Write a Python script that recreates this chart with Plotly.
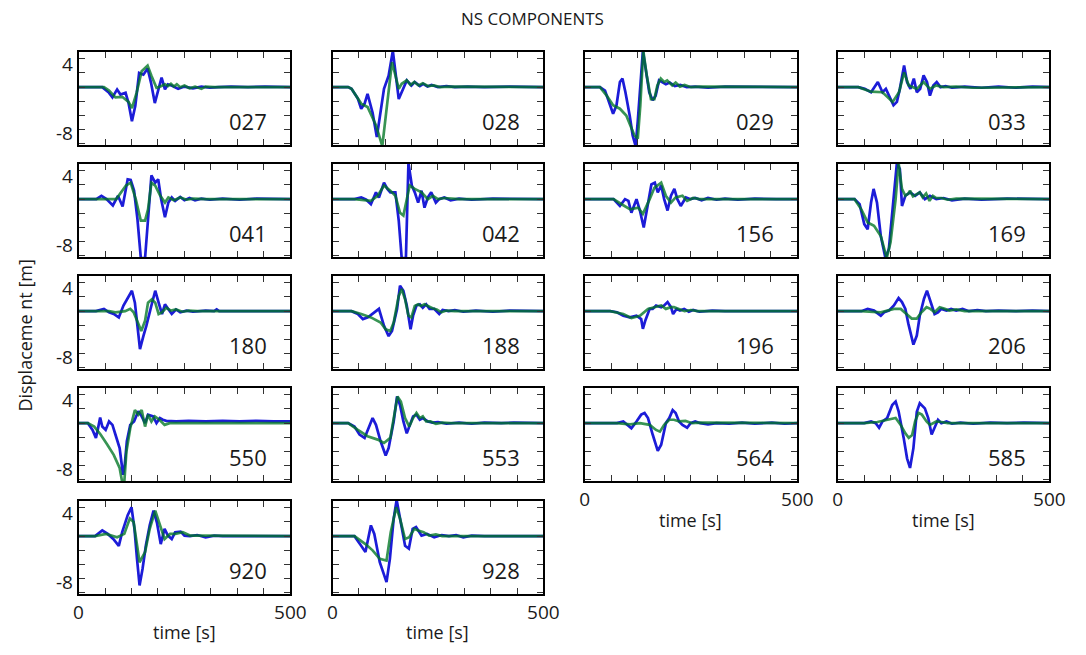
import plotly.graph_objects as go

# ---------------------------------------------------------------------------
# Waveforms: (time [s], displacement [m]) vertices for every station.
# obs_* = blue trace, syn_* = green trace
# ---------------------------------------------------------------------------
obs_027 = [(0, 0), (56, 0), (72, -1.0), (80, -1.8), (91, -0.4), (99, -1.3), (111, -1.0), (118, -2.8),
           (126, -6.0), (134, -3.3), (143, 2.5), (153, 2.2), (163, 3.3), (171, 0.8), (180, -2.8),
           (188, -0.4), (196, 1.7), (204, -0.4), (211, 0.5), (222, 0.2), (235, -0.3), (250, 0.1),
           (270, -0.2), (290, 0.1), (310, -0.1), (330, 0), (360, 0.1), (400, 0), (440, 0.1), (500, 0)]
syn_027 = [(0, 0), (60, 0), (72, -0.6), (87, -1.8), (103, -1.7), (118, -2.6), (126, -3.7), (137, -1.0),
           (149, 2.8), (163, 3.8), (172, 2.0), (184, -0.1), (196, 0.2), (204, 0.5), (211, 0.2), (218, 0.6),
           (225, 0.1), (232, 0.5), (240, 0), (250, 0.3), (262, -0.2), (275, 0.1), (290, -0.3), (300, 0.1),
           (320, 0), (500, 0)]

obs_028 = [(0, 0), (37, 0), (45, -0.3), (60, -2.0), (68, -3.8), (76, -2.9), (83, -1.2), (95, -4.5),
           (105, -8.8), (114, -4.1), (122, -0.3), (133, 2.0), (143, 6.4), (157, -2.1), (164, -0.9),
           (176, 1.2), (187, 0.3), (195, 0.9), (207, 0.2), (215, 0.6), (225, 0.1), (235, 0.4), (250, 0),
           (270, 0.2), (290, 0), (320, 0.1), (360, 0), (420, 0.1), (500, 0)]
syn_028 = [(0, 0), (37, 0), (45, -0.3), (68, -2.9), (83, -3.5), (103, -6.7), (118, -10.4), (130, -3.2),
           (141, 4.4), (149, 2.1), (157, -0.3), (164, 0.6), (176, 1.2), (185, 0.4), (194, 0.9), (204, 0.3),
           (214, 0.7), (226, 0.2), (240, 0.3), (255, 0), (275, 0.1), (500, 0)]

obs_029 = [(0, 0), (36, 0), (48, -0.6), (59, -3.2), (67, -4.7), (75, -3.2), (83, 0.9), (89, 1.5),
           (96, -0.9), (106, -5.0), (113, -8.5), (120, -10.4), (125, -6.0), (137, 6.4), (144, 2.6),
           (152, -0.9), (160, -2.3), (167, -1.5), (175, 1.2), (183, 0.9), (191, 0.5), (200, 0.8),
           (212, 0.2), (225, 0.4), (240, 0), (260, 0.1), (290, -0.1), (330, 0.1), (500, 0)]
syn_029 = [(0, 0), (36, 0), (52, -1.5), (67, -3.2), (83, -3.8), (98, -5.0), (117, -8.5), (125, -9.1),
           (131, -3.2), (138, 6.4), (146, 2.1), (156, -2.1), (164, -2.1), (171, 0.3), (179, 1.5),
           (187, 0.9), (194, 1.2), (206, 0.3), (214, 0.8), (224, 0.1), (235, 0.4), (250, 0), (270, 0.1),
           (500, 0)]

obs_033 = [(0, 0), (49, 0), (64, -0.3), (79, -0.9), (95, 0.9), (106, -0.9), (114, -0.3), (124, -2.1),
           (132, -3.2), (140, -2.6), (147, -0.3), (157, 3.8), (164, 0.9), (172, -0.3), (180, 1.5),
           (187, -0.9), (195, -0.3), (203, 2.1), (211, 0.9), (218, -1.5), (226, 0.3), (234, 0.9),
           (243, 0), (255, 0.2), (270, -0.1), (300, 0.1), (340, -0.1), (380, 0.1), (420, -0.1),
           (460, 0.1), (500, 0)]
syn_033 = [(0, 0), (49, 0), (79, -0.8), (106, -0.9), (130, -2.6), (145, -0.9), (157, 2.6), (168, 0.3),
           (187, -0.3), (203, 0.9), (218, -0.3), (232, 0.3), (250, 0), (280, 0.1), (320, -0.1), (500, 0)]

obs_041 = [(0, 0), (42, 0), (54, 0.6), (66, 0), (81, -1.1), (93, 0.6), (104, -1.3), (116, 3.5),
           (123, 3.4), (131, 1.5), (139, -3.5), (147, -10.4), (157, -10.4), (164, -2.9), (172, 4.2),
           (181, 2.9), (188, 3.5), (195, 0), (204, -3.2), (212, -0.6), (220, 0.3), (228, -0.3),
           (240, 0.4), (250, -0.2), (262, 0.2), (275, -0.2), (290, 0.1), (310, -0.1), (340, 0.1),
           (380, -0.1), (420, 0.1), (500, 0)]
syn_041 = [(0, 0), (42, 0), (66, 0.1), (89, 0), (112, 2.4), (123, 2.9), (135, 0), (147, -3.8), (157, -3.8),
           (164, -1.8), (172, 2.9), (181, 2.4), (193, 0.6), (204, -0.6), (212, 0.3), (225, -0.2),
           (240, 0.3), (255, -0.1), (270, 0.1), (300, 0), (500, 0)]

obs_042 = [(0, 0), (52, 0), (68, 0.3), (80, -0.1), (91, -0.9), (103, 1.2), (110, 0.3), (122, 2.9),
           (130, 1.8), (137, 1.2), (149, 1.2), (157, -3.8), (164, -10.4), (174, -10.4), (180, 6.4),
           (188, 2.4), (195, 1.2), (203, -0.6), (211, 1.5), (218, -1.5), (226, 0.3), (234, 1.2),
           (245, -0.6), (253, 0), (265, 0.3), (280, -0.2), (300, 0.1), (330, -0.1), (380, 0.1), (500, 0)]
syn_042 = [(0, 0), (52, 0), (91, -0.3), (107, 0.6), (122, 2.4), (137, 1.5), (149, 0.6), (160, -2.4),
           (168, -2.9), (176, 0), (183, 2.4), (195, 1.8), (211, 1.2), (226, 0), (238, 0.6), (250, 0),
           (265, 0.2), (300, 0), (500, 0)]

obs_156 = [(0, 0), (68, 0), (83, -1.2), (95, 0), (103, -0.3), (110, -2.4), (122, 0), (130, -2.0),
           (139, -5.0), (149, -0.6), (157, 2.6), (165, 2.9), (172, 1.2), (180, 2.4), (187, 0),
           (195, -2.0), (203, 0.6), (211, 1.8), (218, 0), (226, -1.2), (238, 0.3), (249, 0), (260, 0.2),
           (275, -0.2), (290, 0.2), (310, -0.1), (330, 0.1), (360, -0.1), (400, 0.1), (450, 0), (500, 0)]
syn_156 = [(0, 0), (68, 0), (87, -0.9), (107, -1.8), (126, -1.5), (137, -2.6), (153, 0), (164, 2.0),
           (180, 2.9), (191, 0.6), (203, -0.6), (214, 0.3), (230, 0.6), (241, -0.3), (255, 0.2), (270, 0),
           (500, 0)]

obs_169 = [(0, 0), (40, 0), (52, -0.9), (63, -4.4), (71, -5.3), (79, -0.6), (85, 1.8), (93, -0.6),
           (102, -6.5), (113, -10.4), (121, -8.8), (131, 0), (140, 6.4), (147, 5.3), (152, -1.2),
           (160, 0.6), (171, 1.2), (183, 0.6), (194, 1.2), (206, 0), (218, 0.6), (233, 0), (250, 0.2),
           (270, -0.2), (300, 0.1), (340, -0.1), (400, 0.1), (500, 0)]
syn_169 = [(0, 0), (40, 0), (56, -1.8), (71, -4.1), (86, -4.7), (102, -6.5), (116, -10.4), (125, -7.6),
           (137, 0), (144, 6.4), (152, 1.8), (160, 0.6), (167, 1.0), (171, 1.5), (178, 0.5), (186, 0.9),
           (194, 1.2), (201, 0.3), (209, 1.0), (217, -0.3), (225, 0.6), (233, 0.2), (245, 0.2),
           (260, -0.1), (280, 0.1), (500, 0)]

obs_180 = [(0, 0), (41, 0), (60, 0.4), (72, -0.2), (83, -0.5), (95, -1.1), (106, 1.0), (118, 2.7),
           (126, 3.6), (133, 1.5), (140, -3.2), (145, -6.7), (153, -4.4), (160, -2.6), (172, 1.0),
           (181, 3.6), (189, 1.5), (197, -0.5), (204, 1.2), (212, 0.3), (220, -0.5), (230, 0.3),
           (240, -0.2), (255, 0.1), (270, -0.1), (300, 0.1), (320, 0), (326, 0.3), (332, 0), (500, 0)]
syn_180 = [(0, 0), (41, 0), (72, 0), (87, -0.2), (110, 0), (122, 0.4), (130, -0.2), (140, -2.0),
           (148, -3.5), (157, -1.7), (164, 1.5), (173, 2.1), (181, 1.5), (189, -0.5), (197, -0.2),
           (207, 0.6), (218, 0.1), (230, 0.3), (245, -0.1), (260, 0.1), (280, 0), (500, 0)]

obs_188 = [(0, 0), (45, 0), (60, -0.5), (72, -1.4), (84, -1.1), (99, -0.2), (110, 0.4), (122, -2.6),
           (133, -4.4), (141, -3.5), (153, 0.4), (160, 4.5), (168, 3.6), (176, 1.0), (185, -3.2),
           (191, -0.8), (199, 1.0), (207, 1.2), (214, 0.6), (222, 1.2), (230, 0.4), (241, 0.4),
           (253, -0.5), (261, 0.2), (275, 0), (290, 0.2), (310, -0.1), (340, 0.1), (380, -0.1),
           (420, 0.1), (460, 0), (500, 0)]
syn_188 = [(0, 0), (45, 0), (68, -0.5), (91, -1.1), (114, -2.0), (126, -3.2), (137, -3.5), (145, -2.0),
           (157, 2.7), (164, 3.9), (172, 2.1), (180, -0.8), (187, -1.1), (195, 0.9), (203, 1.2),
           (210, 0.9), (218, 1.2), (226, 0.9), (237, 0.5), (247, 0.3), (258, -0.2), (270, 0.1), (290, 0),
           (500, 0)]

obs_196 = [(0, 0), (60, 0), (76, -0.2), (91, -0.8), (106, -1.1), (122, -0.8), (133, -1.4), (137, -3.1),
           (143, -1.6), (153, 0.4), (160, 0.4), (168, 1.0), (180, 0.7), (187, 1.0), (195, 1.6),
           (203, 0.7), (208, -0.5), (216, 0.4), (224, 0.1), (234, 0.4), (245, -0.1), (255, 0.2),
           (270, -0.1), (300, 0.1), (330, 0), (500, 0)]
syn_196 = [(0, 0), (60, 0), (91, -0.5), (110, -1.2), (130, -0.8), (149, 0.4), (164, 0.7), (180, 1.0),
           (191, 0.4), (203, 0.7), (210, 0.7), (222, 0.4), (235, 0), (250, 0.2), (265, 0), (500, 0)]

obs_206 = [(0, 0), (56, 0), (71, 0.4), (86, 0.1), (102, -0.8), (110, -0.2), (121, 0.1), (133, 1.0),
           (144, 2.3), (152, 1.6), (160, 0.4), (167, -2.2), (179, -5.9), (187, -4.3), (194, -0.8),
           (204, 2.2), (211, 3.6), (219, 1.6), (229, -0.5), (237, -0.2), (245, 0.4), (257, 0.1),
           (268, 0.4), (280, 0.1), (295, 0.4), (310, 0), (330, 0.2), (350, 0), (380, 0.1), (420, 0),
           (460, 0.1), (500, 0)]
syn_206 = [(0, 0), (56, 0), (102, -0.2), (133, 0.4), (149, 0.4), (164, -0.5), (175, -1.3), (187, -1.3),
           (198, -0.2), (210, 0.7), (219, 0.4), (229, -0.2), (241, 0.7), (253, 0.4), (264, 0.1),
           (280, 0.3), (300, 0), (500, 0)]

obs_550 = [(0, 0), (22, 0), (33, -1.2), (41, -2.6), (46, -0.9), (51, 1.0), (56, -0.6), (64, -1.2),
           (72, 0.3), (80, -0.3), (87, -2.0), (97, -4.4), (105, -9.1), (109, -7.4), (114, -3.2),
           (122, -0.3), (131, 0.3), (141, 2.1), (149, 1.2), (157, 0), (164, 1.5), (176, 1.2), (184, 0),
           (192, 0.9), (199, 0.6), (207, 0.4), (230, 0.3), (260, 0.4), (300, 0.3), (340, 0.4), (380, 0.3),
           (420, 0.4), (460, 0.3), (500, 0.3)]
syn_550 = [(0, 0), (22, 0), (37, -0.6), (52, -2.0), (68, -3.8), (83, -5.6), (97, -7.9), (103, -10.4),
           (108, -10.4), (113, -5.0), (122, -0.9), (133, 2.3), (141, 1.5), (149, 2.3), (157, -0.6),
           (164, 1.5), (172, 0.3), (180, 1.2), (191, 0.6), (203, -0.3), (215, 0), (500, 0)]

obs_553 = [(0, 0), (37, 0), (52, -0.6), (64, -2.0), (76, -2.6), (87, -0.6), (95, 0.9), (103, -0.3),
           (114, -3.2), (126, -5.7), (133, -4.4), (145, 0.3), (153, 4.7), (160, 3.2), (168, 0.3),
           (176, -1.8), (184, 0), (191, 1.2), (199, 1.5), (207, 0.6), (214, 0.9), (226, 0.3), (237, 0.1),
           (250, 0.2), (270, -0.1), (300, 0.1), (330, -0.1), (360, 0.1), (400, 0), (430, 0.1), (500, 0)]
syn_553 = [(0, 0), (37, 0), (60, -1.2), (83, -2.3), (107, -2.9), (122, -3.5), (137, -2.6), (145, 0.9),
           (154, 4.7), (162, 3.8), (172, 0.9), (182, -0.6), (191, 0.9), (199, 1.8), (207, 0.9),
           (214, 1.2), (222, 0.3), (232, 0.3), (245, -0.1), (260, 0.1), (280, 0), (500, 0)]

obs_564 = [(0, 0), (76, 0), (91, 0.3), (102, -0.3), (110, -0.9), (122, 0.3), (133, 1.5), (141, 1.8),
           (149, 0.9), (160, -2.0), (172, -4.9), (180, -3.8), (191, 0), (199, 0.9), (207, 2.3),
           (214, 1.8), (222, 0.3), (230, -0.3), (241, -0.8), (249, 0), (260, 0.3), (272, 0), (290, -0.2),
           (310, 0), (340, -0.1), (370, 0.1), (400, -0.1), (440, 0.1), (470, -0.1), (500, 0)]
syn_564 = [(0, 0), (76, 0), (107, -0.2), (130, 0), (153, -0.3), (168, -1.2), (177, -1.5), (187, -0.3),
           (199, 0.6), (210, 0.6), (222, 0.3), (237, 0.4), (253, 0), (270, 0.1), (500, 0)]

obs_585 = [(0, 0), (63, 0), (79, 0.3), (90, 0), (98, -0.8), (106, 0.3), (117, 0.9), (129, 3.2),
           (137, 3.8), (144, 2.1), (156, -2.6), (164, -6.2), (171, -7.9), (179, -4.4), (187, 2.0),
           (194, 3.5), (206, 2.6), (214, 0.9), (222, -2.0), (230, -0.6), (237, 0.6), (245, 0), (257, 0.3),
           (270, -0.1), (290, 0.1), (320, -0.1), (360, 0.1), (400, 0), (440, 0.1), (500, 0)]
syn_585 = [(0, 0), (63, 0), (94, 0.2), (117, 0.6), (137, 0.9), (149, -0.3), (160, -1.8), (168, -2.6),
           (176, -2.1), (183, 0.3), (191, 1.8), (199, 1.5), (210, 0.3), (218, -0.3), (226, 0), (233, 0.3),
           (245, 0.2), (260, 0), (500, 0)]

obs_920 = [(0, 0), (39, 0), (56, 1.0), (69, 0.4), (82, -0.5), (95, -1.7), (103, 0.7), (116, 3.7),
           (125, 5.1), (132, 1.3), (138, -4.0), (144, -8.7), (151, -5.8), (159, -1.6), (168, 1.9),
           (177, 4.5), (185, 2.4), (194, -1.4), (203, 1.3), (211, 0.1), (220, -0.5), (228, 0.7),
           (241, 0.8), (250, 0.1), (263, 0), (280, 0.2), (300, -0.2), (320, 0.1), (340, 0), (500, 0)]
syn_920 = [(0, 0), (39, 0), (65, 0.4), (91, -0.2), (108, 0.4), (121, 3.1), (130, 2.5), (144, -4.6),
           (157, -2.8), (168, 1.3), (181, 4.5), (190, 2.4), (203, -0.5), (216, 0.4), (229, 0.4),
           (246, 0.7), (263, 0.1), (280, 0.1), (500, 0)]

obs_928 = [(0, 0), (52, 0), (65, -1.4), (78, -2.8), (91, 1.9), (99, 0.4), (112, -4.6), (128, -8.1),
           (136, -4.0), (145, 3.1), (152, 6.4), (160, 3.1), (172, -1.7), (181, -2.2), (190, 1.3),
           (198, 1.6), (211, 0.1), (224, 0.4), (241, -0.2), (259, 0.2), (276, 0), (293, 0.2), (310, -0.2),
           (330, 0.1), (360, 0), (500, 0)]
syn_928 = [(0, 0), (52, 0), (78, -1.4), (95, -2.5), (112, -4.0), (128, -4.3), (138, 0.7), (151, 5.1),
           (160, 3.1), (172, -0.5), (182, -0.2), (194, 1.3), (203, 1.0), (216, 0.7), (229, 0.1),
           (245, 0.3), (260, 0), (500, 0)]

STATIONS = ["027", "028", "029", "033",
            "041", "042", "156", "169",
            "180", "188", "196", "206",
            "550", "553", "564", "585",
            "920", "928"]
OBS = [obs_027, obs_028, obs_029, obs_033, obs_041, obs_042, obs_156, obs_169, obs_180,
       obs_188, obs_196, obs_206, obs_550, obs_553, obs_564, obs_585, obs_920, obs_928]
SYN = [syn_027, syn_028, syn_029, syn_033, syn_041, syn_042, syn_156, syn_169, syn_180,
       syn_188, syn_196, syn_206, syn_550, syn_553, syn_564, syn_585, syn_920, syn_928]

TIME_TICKS = [0, 62.5, 125, 187.5, 250, 312.5, 375, 437.5, 500]
TIME_LABELS = ["0", "", "", "", "", "", "", "", "500"]
DISP_TICKS = [-10, -7.5, -5, -2.5, 0, 2.5, 5]
DISP_LABELS = [4, -8]

# ---------------------------------------------------------------------------
# Page geometry (pixels)
# ---------------------------------------------------------------------------
W, H = 1086, 655
COLS = [(75, 291), (334, 549), (591, 808), (849, 1065)]
ROW_TOPS = [52, 164, 276, 388, 501]
PANEL_H = 93
T_RANGE = [0, 500]
D_RANGE = [-10.2, 6.2]

BLUE = "#1c1cd8"
GREEN = "rgba(0, 118, 36, 0.78)"
FONT = "Open Sans"
INK = "#1a1a1a"


def px_x(p):
    return p / W


def px_y(p):
    return 1 - p / H


# grid slot (row, col) of every station
slots = [(r, c) for r in range(4) for c in range(4)] + [(4, 0), (4, 1)]
# panels that carry the time tick labels
bottom_panels = {"920", "928", "564", "585"}

fig = go.Figure()
annotations = []
layout_axes = {}

for i, (name, obs, syn) in enumerate(zip(STATIONS, OBS, SYN)):
    r, c = slots[i]
    k = i + 1
    sfx = "" if k == 1 else str(k)
    xa, ya = f"x{sfx}", f"y{sfx}"
    x0, x1 = COLS[c]
    top = ROW_TOPS[r]

    fig.add_trace(go.Scatter(
        x=[p[0] for p in obs], y=[p[1] for p in obs], mode="lines",
        line=dict(color=BLUE, width=2.7), xaxis=xa, yaxis=ya,
        showlegend=False, hoverinfo="skip"))
    fig.add_trace(go.Scatter(
        x=[p[0] for p in syn], y=[p[1] for p in syn], mode="lines",
        line=dict(color=GREEN, width=2.7), xaxis=xa, yaxis=ya,
        showlegend=False, hoverinfo="skip"))

    axis_common = dict(showline=True, linecolor="black", linewidth=2, mirror="allticks",
                       ticks="inside", ticklen=6, tickwidth=1, tickcolor="#333",
                       showgrid=False, zeroline=False, fixedrange=True)
    show_x = name in bottom_panels
    layout_axes[f"xaxis{sfx}"] = dict(
        axis_common, domain=[px_x(x0), px_x(x1)], range=T_RANGE, anchor=ya,
        tickmode="array", tickvals=TIME_TICKS, ticktext=TIME_LABELS,
        showticklabels=show_x, tickfont=dict(family=FONT, size=19, color=INK))
    layout_axes[f"yaxis{sfx}"] = dict(
        axis_common, domain=[px_y(top + PANEL_H), px_y(top)], range=D_RANGE, anchor=xa,
        tickmode="array", tickvals=DISP_TICKS, showticklabels=False)

    # station number inside the panel
    annotations.append(dict(
        text=name, xref=f"{xa} domain", yref=f"{ya} domain", x=0.80, y=0.26,
        xanchor="center", yanchor="middle", showarrow=False,
        font=dict(family=FONT, size=22, color=INK)))

    # displacement labels on the first column
    if c == 0:
        for v in DISP_LABELS:
            annotations.append(dict(
                text=str(v), xref="paper", yref=ya, x=px_x(71), y=v,
                xanchor="right", yanchor="middle", showarrow=False,
                font=dict(family=FONT, size=19, color=INK)))

# time axis titles
for cx, cy in [((COLS[0][0] + COLS[0][1]) / 2, 632), ((COLS[1][0] + COLS[1][1]) / 2, 632),
               ((COLS[2][0] + COLS[2][1]) / 2, 520), ((COLS[3][0] + COLS[3][1]) / 2, 520)]:
    annotations.append(dict(
        text="time [s]", xref="paper", yref="paper", x=px_x(cx), y=px_y(cy),
        xanchor="center", yanchor="middle", showarrow=False,
        font=dict(family=FONT, size=18, color=INK)))

annotations.append(dict(
    text="NS COMPONENTS", xref="paper", yref="paper", x=px_x(538), y=px_y(18),
    xanchor="center", yanchor="middle", showarrow=False,
    font=dict(family=FONT, size=17, color=INK)))
annotations.append(dict(
    text="Displaceme nt [m]", xref="paper", yref="paper", x=px_x(20), y=px_y(335),
    xanchor="center", yanchor="middle", showarrow=False, textangle=-90,
    font=dict(family=FONT, size=18, color=INK)))

fig.update_layout(
    width=W, height=H, margin=dict(l=0, r=0, t=0, b=0),
    paper_bgcolor="white", plot_bgcolor="white",
    annotations=annotations, showlegend=False, **layout_axes)

fig.write_html("out.html", config={"displayModeBar": False})
